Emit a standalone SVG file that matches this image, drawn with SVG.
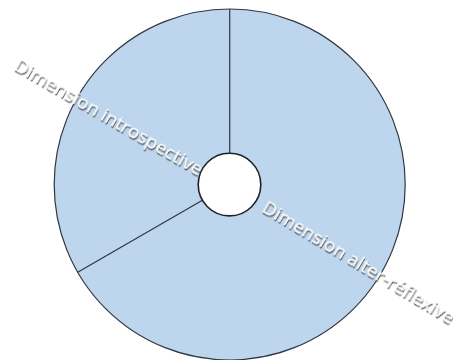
<svg xmlns="http://www.w3.org/2000/svg" width="453" height="360" viewBox="0 0 453 360">
<defs>
<style>
.seg{fill:#bdd6ee;stroke:#2f3640;stroke-width:1.2}
.hole{fill:#ffffff;stroke:#1e2228;stroke-width:1.6}
.div{stroke:#2f3640;stroke-width:1.2;fill:none}
.lbl{font-family:"Open Sans","Liberation Sans",sans-serif;font-size:17.5px;fill:#ffffff;filter:url(#sh)}
</style>
<filter id="sh" x="-10%" y="-50%" width="120%" height="200%">
<feDropShadow dx="1.1" dy="1.4" stdDeviation="0.7" flood-color="#4a4a4a" flood-opacity="1"/>
</filter>
</defs>
<rect width="453" height="360" fill="#ffffff"/>
<g id="ring">
<circle class="seg" cx="229.7" cy="184.5" r="175.5"/>
</g>
<g id="connectors">
<line class="div" x1="229.7" y1="9" x2="229.7" y2="153"/>
<line class="div" x1="202.4" y1="200.2" x2="77.7" y2="272.3"/>
</g>
<g id="center">
<circle class="hole" cx="229.5" cy="184.6" r="31.3"/>
</g>
<g id="label-introspective">
<text class="lbl" transform="translate(13,69) rotate(30)" textLength="214" lengthAdjust="spacingAndGlyphs">Dimension introspective</text>
</g>
<g id="label-alter">
<text class="lbl" transform="translate(261,211) rotate(31)" textLength="220" lengthAdjust="spacingAndGlyphs">Dimension alter-réflexive</text>
</g>
</svg>
